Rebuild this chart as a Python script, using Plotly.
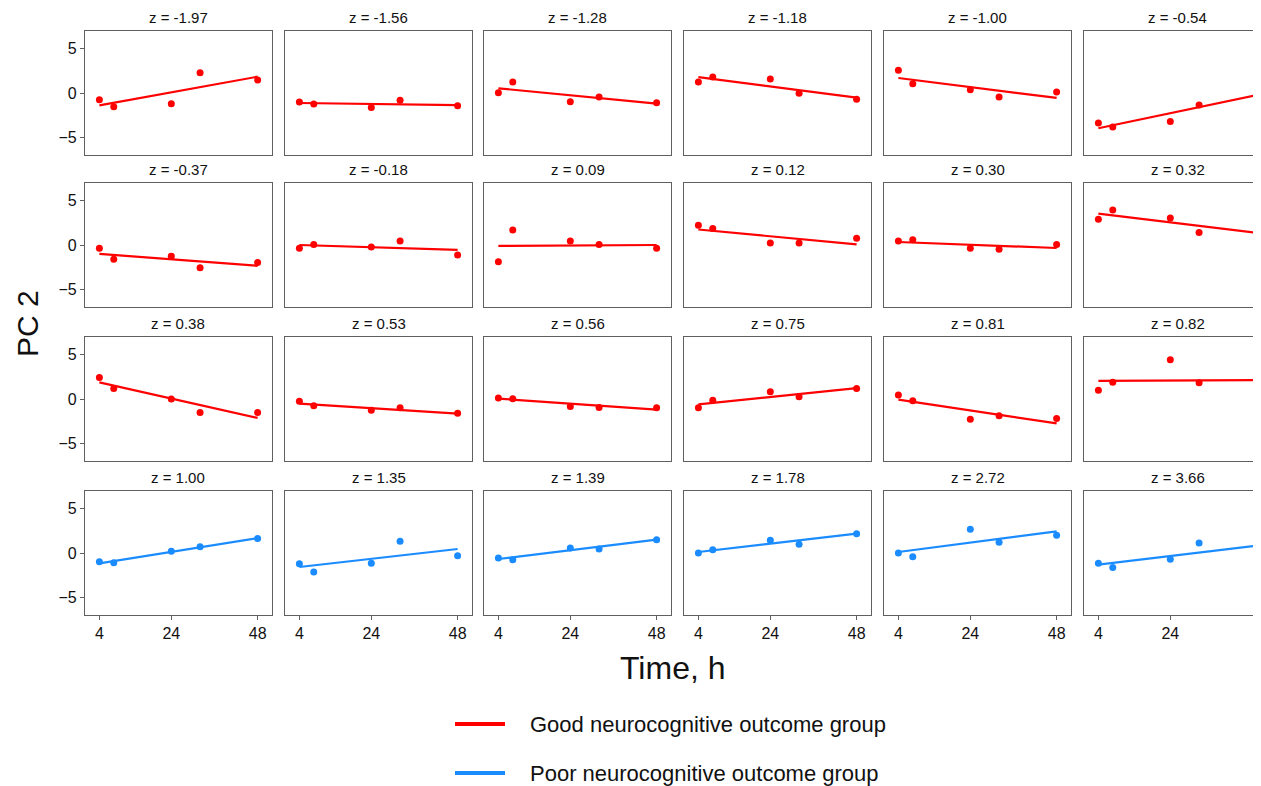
import plotly.graph_objects as go

# ---------------- data ----------------
time_h = [4, 8, 24, 32, 48]
z_scores = [-1.97, -1.56, -1.28, -1.18, -1.00, -0.54,
            -0.37, -0.18, 0.09, 0.12, 0.30, 0.32,
            0.38, 0.53, 0.56, 0.75, 0.81, 0.82,
            1.00, 1.35, 1.39, 1.78, 2.72, 3.66]
groups = ["Good"] * 18 + ["Poor"] * 6

pc2_values = [
    [-0.75, -1.54, -1.20, 2.29, 1.47],
    [-1.02, -1.24, -1.65, -0.83, -1.43],
    [0.04, 1.24, -0.98, -0.45, -1.09],
    [1.24, 1.80, 1.58, -0.04, -0.71],
    [2.56, 1.05, 0.38, -0.45, 0.11],
    [-3.38, -3.83, -3.23, -1.35, 0.00],
    [-0.37, -1.60, -1.27, -2.57, -1.98],
    [-0.37, 0.07, -0.22, 0.45, -1.12],
    [-1.90, 1.68, 0.45, 0.07, -0.37],
    [2.24, 1.87, 0.22, 0.22, 0.75],
    [0.45, 0.60, -0.37, -0.49, 0.07],
    [2.91, 3.96, 3.06, 1.42, 1.49],
    [2.43, 1.19, 0.00, -1.53, -1.53],
    [-0.26, -0.75, -1.27, -1.00, -1.60],
    [0.11, 0.04, -0.86, -0.97, -1.00],
    [-1.00, -0.15, 0.82, 0.26, 1.19],
    [0.45, -0.19, -2.28, -1.90, -2.20],
    [1.00, 1.90, 4.44, 1.83, 1.19],
    [-0.98, -1.09, 0.19, 0.71, 1.65],
    [-1.20, -2.14, -1.17, 1.32, -0.30],
    [-0.56, -0.75, 0.56, 0.45, 1.50],
    [0.00, 0.38, 1.43, 0.98, 2.18],
    [0.00, -0.41, 2.67, 1.20, 1.99],
    [-1.17, -1.65, -0.71, 1.13, 0.30],
]
# fitted trajectory values at 4 h and 48 h
fit_start = [-1.39, -1.13, 0.53, 1.80, 1.69, -3.98,
             -1.00, 0.00, -0.11, 1.75, 0.34, 3.54,
             1.87, -0.52, 0.04, -0.60, -0.07, 2.05,
             -1.17, -1.58, -0.68, 0.11, 0.11, -1.32]
fit_end = [1.84, -1.37, -1.20, -0.53, -0.56, -0.23,
           -2.35, -0.56, 0.00, 0.07, -0.34, 1.38,
           -2.13, -1.64, -1.19, 1.23, -2.76, 2.13,
           1.69, 0.45, 1.50, 2.18, 2.44, 0.83]
fit_times = [4, 48]
x_ticks = [4, 24, 48]
y_ticks = [-5, 0, 5]
legend_groups = ["Good", "Poor"]
legend_labels = ["Good neurocognitive outcome group",
                 "Poor neurocognitive outcome group"]

# ---------------- style ----------------
SCREEN_W, SCREEN_H = 1261, 786
OFF = 8                      # page body margin
W, H = SCREEN_W - OFF, SCREEN_H - OFF
COLORS = {"Good": "#FF0000", "Poor": "#1A8CFF"}
FONT = "Liberation Sans, Arial, Helvetica, sans-serif"
col_left = [85, 285, 484, 684, 884, 1084]   # screen px
row_top = [31, 183, 337, 491]
PW, PH = 187, 124
X_RANGE = [0, 52]
Y_RANGE = [-7, 7]


def px(xs):
    return (xs - OFF) / W


def py(ys):
    return 1 - (ys - OFF) / H


fig = go.Figure()
annotations = []
shapes = []
layout_axes = {}

for i, z in enumerate(z_scores):
    r, c = divmod(i, 6)
    n = i + 1
    xa = "x" if n == 1 else f"x{n}"
    ya = "y" if n == 1 else f"y{n}"
    color = COLORS[groups[i]]

    fig.add_trace(go.Scatter(
        x=time_h, y=pc2_values[i], mode="markers",
        marker=dict(color=color, size=7),
        xaxis=xa, yaxis=ya, showlegend=False, hoverinfo="x+y",
        cliponaxis=False))
    fig.add_trace(go.Scatter(
        x=fit_times, y=[fit_start[i], fit_end[i]], mode="lines",
        line=dict(color=color, width=2.2),
        xaxis=xa, yaxis=ya, showlegend=False, hoverinfo="skip"))

    left = col_left[c]
    right = min(left + PW, SCREEN_W)
    xr = [X_RANGE[0], X_RANGE[0] + (X_RANGE[1] - X_RANGE[0]) * (right - left) / PW]
    top = row_top[r]
    bottom_row = (r == 3)
    first_col = (c == 0)

    xkey = "xaxis" if n == 1 else f"xaxis{n}"
    ykey = "yaxis" if n == 1 else f"yaxis{n}"
    layout_axes[xkey] = dict(
        domain=[px(left), min(px(right), 1.0)], range=xr, anchor=ya,
        showline=True, mirror=True, linecolor="#606060", linewidth=1.2,
        showgrid=False, zeroline=False, tickvals=x_ticks,
        showticklabels=bottom_row, ticks="outside" if bottom_row else "",
        ticklen=4, tickcolor="#606060",
        tickfont=dict(family=FONT, size=16, color="#111"),
        fixedrange=True)
    layout_axes[ykey] = dict(
        domain=[py(top + PH), py(top)], range=Y_RANGE, anchor=xa,
        showline=True, mirror=True, linecolor="#606060", linewidth=1.2,
        showgrid=False, zeroline=False, tickvals=y_ticks,
        showticklabels=first_col, ticks="outside" if first_col else "",
        ticklen=4, tickcolor="#606060",
        tickfont=dict(family=FONT, size=16, color="#111"),
        fixedrange=True)

    annotations.append(dict(
        text=f"z = {z:.2f}", x=px(left + PW / 2), y=py(top - 3),
        xref="paper", yref="paper", xanchor="center", yanchor="bottom",
        showarrow=False, font=dict(family=FONT, size=15, color="#111")))

# legend (line samples + labels)
legend_y = [724, 773]
for g, label, ly in zip(legend_groups, legend_labels, legend_y):
    shapes.append(dict(type="line", xref="paper", yref="paper",
                       x0=px(455), x1=px(505), y0=py(ly), y1=py(ly),
                       line=dict(color=COLORS[g], width=4)))
    annotations.append(dict(
        text=label, x=px(528), y=py(ly), xref="paper", yref="paper",
        xanchor="left", yanchor="middle", showarrow=False,
        font=dict(family=FONT, size=22, color="#111")))

annotations.append(dict(
    text="PC 2", x=px(27), y=py(324), xref="paper", yref="paper",
    xanchor="center", yanchor="middle", textangle=-90, showarrow=False,
    font=dict(family=FONT, size=30, color="#111")))
annotations.append(dict(
    text="Time, h", x=px(673), y=py(668), xref="paper", yref="paper",
    xanchor="center", yanchor="middle", showarrow=False,
    font=dict(family=FONT, size=32, color="#111")))

fig.update_layout(
    width=W, height=H,
    margin=dict(l=0, r=0, t=0, b=0),
    paper_bgcolor="white", plot_bgcolor="white",
    showlegend=False,
    annotations=annotations, shapes=shapes,
    **layout_axes)

fig.write_html("out.html")
